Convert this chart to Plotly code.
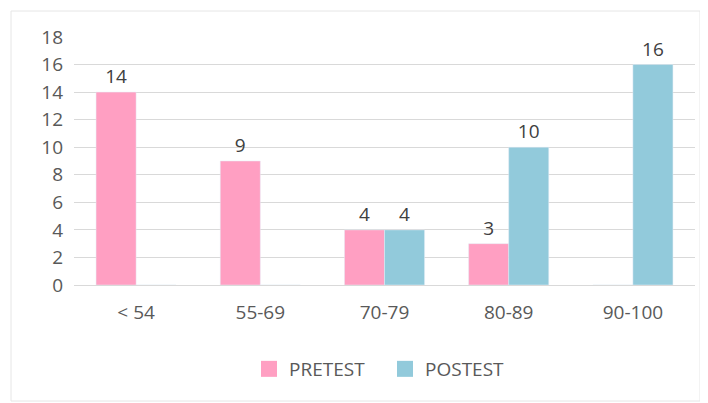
import plotly.graph_objects as go

categories = ["< 54", "55-69", "70-79", "80-89", "90-100"]
pretest = [14, 9, 4, 3, 0]
postest = [0, 0, 4, 10, 16]
y_ticks = [0, 2, 4, 6, 8, 10, 12, 14, 16, 18]

pink = "#FF9FC2"
blue = "#92CADB"
txt = "#595959"
font_family = "Open Sans, DejaVu Sans, sans-serif"
fs = 19

def labels(vals):
    return [str(v) if v else "" for v in vals]

fig = go.Figure()
fig.add_trace(go.Bar(x=categories, y=pretest, name="PRETEST", marker_color=pink,
                     text=labels(pretest), textposition="outside", cliponaxis=False,
                     textfont=dict(size=fs, color="#404040"), showlegend=False))
fig.add_trace(go.Bar(x=categories, y=postest, name="POSTEST", marker_color=blue,
                     text=labels(postest), textposition="outside", cliponaxis=False,
                     textfont=dict(size=fs, color="#404040"), showlegend=False))
# legend entries with larger square swatches
for name, col in [("PRETEST", pink), ("POSTEST", blue)]:
    fig.add_trace(go.Scatter(x=[None], y=[None], mode="markers", name=name,
                             marker=dict(symbol="square", size=18, color=col)))

# page body has an 8px margin, so figure coordinates are offset by 8px
L, R, T, B = 66, 13, 29, 118
W, H = 700, 395
pw, ph = W - L - R, H - T - B

fig.update_layout(
    width=W, height=H,
    margin=dict(l=L, r=R, t=T, b=B),
    barmode="group", bargap=0.355, bargroupgap=0,
    plot_bgcolor="white", paper_bgcolor="white",
    font=dict(family=font_family, size=fs, color=txt),
    showlegend=True,
    legend=dict(orientation="h", x=(377 - L) / pw, xanchor="center",
                y=(T + ph - 361) / ph, yanchor="middle", itemsizing="trace",
                font=dict(size=fs, color=txt), itemwidth=30, traceorder="normal",
                entrywidth=91, entrywidthmode="pixels"),
    xaxis=dict(showgrid=False, showline=False, ticks="", tickfont=dict(size=fs, color=txt),
               ticklabelstandoff=14),
    yaxis=dict(range=[0, 18], tickvals=y_ticks, showgrid=True, gridcolor="#D9D9D9",
               gridwidth=1, zeroline=True, zerolinecolor="#D9D9D9", zerolinewidth=1,
               ticks="", tickfont=dict(size=fs, color=txt), ticklabelstandoff=10),
)

fig.add_shape(type="rect", xref="paper", yref="paper",
              x0=(3 - L) / pw, x1=(692 - L) / pw,
              y0=(T + ph - 393) / ph, y1=(T + ph - 3) / ph,
              line=dict(color="#E6E6E6", width=1), fillcolor="rgba(0,0,0,0)", layer="below")

fig.write_html("out.html")
